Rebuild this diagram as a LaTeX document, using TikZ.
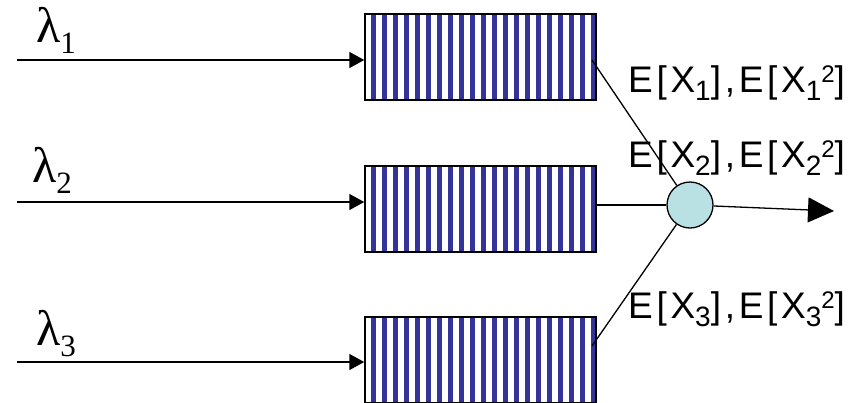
\documentclass[tikz,border=0pt]{standalone}
\usepackage{fontspec}
\setmainfont{Liberation Serif}
\newfontfamily\lblfont[LetterSpace=10]{Liberation Sans}
\usetikzlibrary{arrows.meta}
\definecolor{qblue}{HTML}{333399}
\definecolor{mixc}{HTML}{B9E0E3}
\tikzset{
  queue/.style={draw=black, line width=1.5pt, minimum width=231pt, minimum height=86pt, inner sep=0pt,
    path picture={\foreach \i in {0,...,20}{
      \fill[qblue] ([xshift=\i*11pt+6pt]path picture bounding box.south west) rectangle ([xshift=\i*11pt+11pt]path picture bounding box.north west);}}},
  inarrow/.style={line width=1.6pt, -{Triangle[length=15pt,width=16pt]}},
  link/.style={line width=1.3pt},
  lam/.style={font=\fontsize{50}{50}\selectfont, inner sep=0pt, anchor=base west},
  elbl/.style={font=\lblfont\fontsize{37}{37}\selectfont, inner sep=0pt, anchor=base west},
}
\newcommand{\lsub}[1]{\raisebox{-11pt}{\fontsize{31}{31}\selectfont #1}}
\newcommand{\esub}[1]{\raisebox{-8pt}{\fontsize{28}{28}\selectfont #1}}
\newcommand{\esup}[1]{\raisebox{10pt}{\fontsize{24}{24}\selectfont #1}}
\begin{document}
\begin{tikzpicture}[x=1pt,y=-1pt]
\useasboundingbox (0,0) rectangle (864,402);
\node[queue] (q1) at (480.5,57) {};
\node[queue] (q2) at (480.5,209) {};
\node[queue] (q3) at (480.5,360) {};
\coordinate (s1) at (17,60);
\coordinate (s2) at (17,202);
\coordinate (s3) at (17,362);
\draw[inarrow] (s1) -- (q1.west |- s1);
\draw[inarrow] (s2) -- (q2.west |- s2);
\draw[inarrow] (s3) -- (q3.west |- s3);
\node[lam] (l1) at (36,42) {λ\lsub{1}};
\node[lam] (l2) at (32,182) {λ\lsub{2}};
\node[lam] (l3) at (36,345) {λ\lsub{3}};
\node[circle, draw=black, line width=1.3pt, fill=mixc, minimum size=46pt, inner sep=0pt] (m) at (690,205) {};
\coordinate (o1) at (592,60);
\coordinate (o2) at (596,205);
\coordinate (o3) at (592,346);
\coordinate (out) at (834,211);
\draw[link] (o1) -- (m);
\draw[link] (o2) -- (m);
\draw[link] (o3) -- (m);
\draw[line width=1.3pt, -{Triangle[length=26pt,width=25pt]}] (m) -- (out);
\node[elbl] (e1) at (628,92) {E[X\esub{1}],E[X\esub{1}\esup{2}]};
\node[elbl] (e2) at (628,167) {E[X\esub{2}],E[X\esub{2}\esup{2}]};
\node[elbl] (e3) at (628,318) {E[X\esub{3}],E[X\esub{3}\esup{2}]};
\end{tikzpicture}
\end{document}
